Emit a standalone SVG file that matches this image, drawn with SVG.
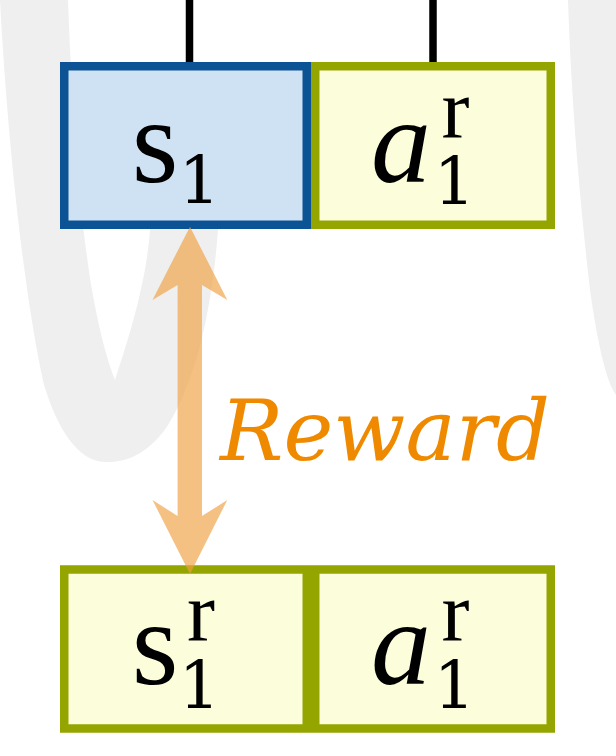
<svg xmlns="http://www.w3.org/2000/svg" width="616" height="756" viewBox="0 0 616 756">
<style>
.blue{fill:#cfe2f3;stroke:#0b5394;stroke-width:8.5}
.olive{fill:#fcfedb;stroke:#95a500;stroke-width:8.5}
.m{font-family:"Liberation Serif","Times New Roman",serif;fill:#000;text-anchor:middle;font-size:120px}
.sm{font-family:"DejaVu Serif",serif;font-size:65px;font-style:normal}
.sup{font-size:84px;font-style:normal}
.it{font-style:italic}
.wire{stroke:#000;stroke-width:7.5;fill:none}
</style>
<g id="background" fill="#efefef">
<path d="M 0,0 L 68,0 C 72,110 80,220 92,290 C 100,335 108,362 115,380 C 128,340 146,285 150,230 L 155,100 L 225,100 L 218,230 C 212,310 196,380 168,425 C 150,452 128,463 105,462 C 78,461 58,430 44,385 C 25,300 8,150 0,0 Z"/>
<path d="M 568,0 L 620,0 L 620,400 L 616,395 C 606,382 597,340 590,290 C 582,220 572,120 568,0 Z"/>
</g>
<g id="connectors">
<line class="wire" x1="189.5" y1="0" x2="189.5" y2="63"/>
<line class="wire" x1="433" y1="0" x2="433" y2="63"/>
</g>
<g id="node-s1">
<rect class="blue" x="64.25" y="66.25" width="242.5" height="158.5"/>
<text class="m" x="155" y="182">s<tspan class="sm" x="199.5" y="203">1</tspan></text>
</g>
<g id="node-a1r-top">
<rect class="olive" x="315.25" y="66.25" width="235.5" height="158.5"/>
<text class="m it" x="401" y="182">a<tspan class="sup" x="455.5" y="137">r</tspan><tspan class="sm" x="454.5" y="204">1</tspan></text>
</g>
<g id="node-s1r">
<rect class="olive" x="64.25" y="569.5" width="242.5" height="159"/>
<text class="m" x="155" y="684">s<tspan class="sup" x="201" y="640">r</tspan><tspan class="sm" x="199.5" y="708">1</tspan></text>
</g>
<g id="node-a1r-bottom">
<rect class="olive" x="315.25" y="569.5" width="235.5" height="159"/>
<text class="m it" x="401" y="684">a<tspan class="sup" x="455.5" y="640">r</tspan><tspan class="sm" x="454.5" y="708">1</tspan></text>
</g>
<g id="reward-arrow">
<polygon fill="#f0a040" fill-opacity="0.65" points="190,226.7 227.3,300 202,285 202,516 227.3,500 190,574 152.5,500 177.6,516 177.6,285 152.5,300"/>
<text x="220" y="460" font-family="DejaVu Serif, serif" font-style="italic" font-size="85" fill="#ef8a00" textLength="330" lengthAdjust="spacingAndGlyphs">Reward</text>
</g>
</svg>
